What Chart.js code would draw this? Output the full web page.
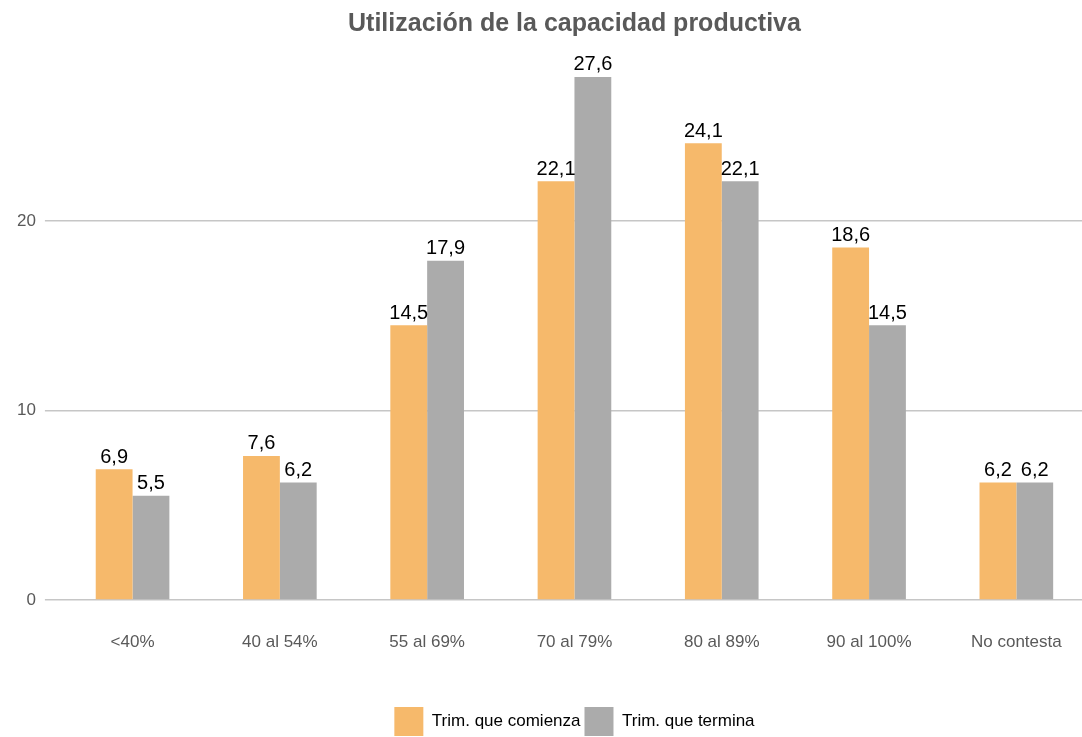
<!DOCTYPE html>
<html>
<head>
<meta charset="utf-8">
<script src="https://cdn.jsdelivr.net/npm/chart.js@4/dist/chart.umd.min.js"></script>
<style>
  html, body { margin: 0; padding: 0; background: #fff; overflow: hidden; }
  #wrap { width: 1090px; height: 737px; }
</style>
</head>
<body>
<div id="wrap"><canvas id="myChart"></canvas></div>
<script>
var categorias = ["<40%", "40 al 54%", "55 al 69%", "70 al 79%", "80 al 89%", "90 al 100%", "No contesta"]
var comienza = [6.9, 7.6, 14.5, 22.1, 24.1, 18.6, 6.2]
var termina = [5.5, 6.2, 17.9, 27.6, 22.1, 14.5, 6.2]
var ejeY = [0, 10, 20]

// etiquetas de valor encima de cada barra
var etiquetas = {
    id: 'etiquetas',
    afterDatasetsDraw: function(chart){
        var ctx = chart.ctx
        ctx.save()
        ctx.font = '20px "Liberation Sans", Arial, sans-serif'
        ctx.fillStyle = '#000'
        ctx.textAlign = 'center'
        ctx.textBaseline = 'bottom'
        chart.data.datasets.forEach(function(ds, i){
            chart.getDatasetMeta(i).data.forEach(function(bar, j){
                var txt = ds.data[j].toFixed(1).replace('.', ',')
                ctx.fillText(txt, bar.x, bar.y - 2)
            })
        })
        ctx.restore()
    }
}

var ctx = document.getElementById("myChart").getContext('2d')
var chart = new Chart(ctx, {
    type: 'bar',
    data: {
        labels: categorias,
        datasets: [
            { label: "Trim. que comienza", data: comienza, backgroundColor: "#F6B96B" },
            { label: "Trim. que termina", data: termina, backgroundColor: "#ABABAB" }
        ]
    },
    options: {
        responsive: true,
        maintainAspectRatio: false,
        animation: false,
        barPercentage: 1,
        categoryPercentage: 0.5,
        layout: { padding: { left: 8, right: 0, top: 0, bottom: -9 } },
        plugins: {
            title: {
                display: true,
                fullSize: false,
                text: "Utilización de la capacidad productiva",
                color: '#595959',
                font: { family: '"Liberation Sans", Arial, sans-serif', size: 25, weight: 'bold' },
                padding: { top: 9, bottom: 0 }
            },
            legend: {
                position: 'bottom',
                fullSize: false,
                labels: {
                    color: '#000',
                    font: { family: '"Liberation Sans", Arial, sans-serif', size: 17 },
                    boxWidth: 29,
                    boxHeight: 29,
                    padding: 4
                }
            },
            tooltip: { enabled: false }
        },
        scales: {
            x: {
                grid: { display: false },
                border: { display: false },
                afterFit: function(axis){ axis.height = 103 },
                ticks: {
                    color: '#595959',
                    padding: 24,
                    font: { family: '"Liberation Sans", Arial, sans-serif', size: 17 }
                }
            },
            y: {
                min: 0,
                max: 29.6,
                border: { display: false },
                grid: { color: '#C6C6C6', lineWidth: 1.5, tickLength: 14 },
                afterBuildTicks: function(axis){
                    axis.ticks = ejeY.map(function(v){ return { value: v } })
                },
                ticks: {
                    color: '#595959',
                    padding: 9,
                    font: { family: '"Liberation Sans", Arial, sans-serif', size: 17 }
                }
            }
        }
    },
    plugins: [etiquetas]
})
</script>
</body>
</html>
